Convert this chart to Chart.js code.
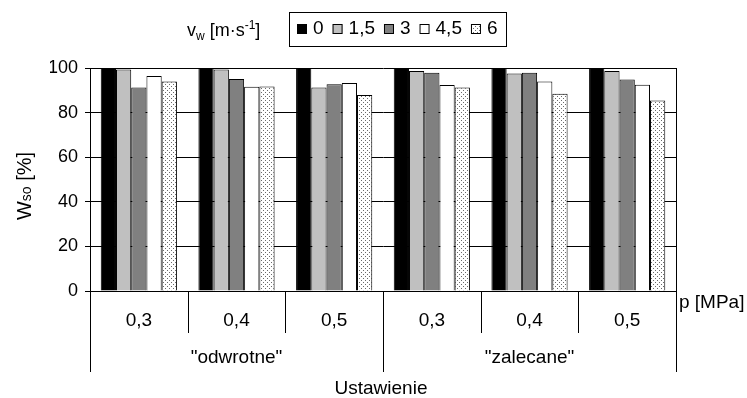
<!DOCTYPE html>
<html><head><meta charset="utf-8">
<script src="https://cdn.jsdelivr.net/npm/chart.js@4"></script>
<style>html,body{margin:0;padding:0;background:#fff}#wrap{width:747px;height:398px}</style>
</head><body><div id="wrap"><canvas id="c" width="747" height="398"></canvas></div>
<script>
const categories = ['0,3','0,4','0,5','0,3','0,4','0,5'];
const groups = ['"odwrotne"','"zalecane"'];
const groupSize = [3,3];
const seriesNames = ['0','1,5','3','4,5','6'];
const s0 = [100,100,100,100,100,100];
const s15 = [99.3,99.3,91.2,98.7,97.5,98.7];
const s3 = [91.2,95.1,92.7,97.9,97.9,94.8];
const s45 = [96.4,91.6,93.3,92.4,94.0,92.5];
const s6 = [93.9,91.7,87.9,91.2,88.5,85.4];
const yTicks = [0,20,40,60,80,100];

const FONT = "'Liberation Sans', Arial, sans-serif";

function dotPattern(){
  const p = document.createElement('canvas');
  p.width = 4; p.height = 4;
  const g = p.getContext('2d');
  g.fillStyle = '#fff'; g.fillRect(0,0,4,4);
  g.fillStyle = '#6a6a6a';
  g.fillRect(1,0,1,1);
  g.fillRect(3,2,1,1);
  return document.getElementById('c').getContext('2d').createPattern(p,'repeat');
}
const pat = dotPattern();
const fills = ['#000000','#c0c0c0','#808080','#ffffff',pat];
const seriesData = [s0,s15,s3,s45,s6];

const extras = {
  id:'extras',
  afterDraw(chart){
    const ctx = chart.ctx, x = chart.scales.x, ca = chart.chartArea;
    ctx.save();
    ctx.strokeStyle = '#000'; ctx.lineWidth = 1;
    // right border
    ctx.beginPath(); ctx.moveTo(Math.round(ca.right)+0.5, ca.top); ctx.lineTo(Math.round(ca.right)+0.5, 372); ctx.stroke();
    // separators
    const step = x.getPixelForValue(1) - x.getPixelForValue(0);
    const bounds = [];
    for(let i=0;i<=categories.length;i++) bounds.push(x.getPixelForValue(0) - step/2 + i*step);
    const major = new Set([0]); let acc=0; groupSize.forEach(g=>{acc+=g; major.add(acc);});
    bounds.forEach((b,i)=>{
      const xx = Math.round(b)+0.5;
      ctx.beginPath(); ctx.moveTo(xx, ca.bottom); ctx.lineTo(xx, major.has(i)?372:333); ctx.stroke();
    });
    // group labels
    ctx.fillStyle = '#000'; ctx.font = '19px '+FONT; ctx.textAlign='center'; ctx.textBaseline='middle';
    let st = 0;
    groups.forEach((g,gi)=>{
      const cx = (bounds[st] + bounds[st+groupSize[gi]])/2;
      ctx.fillText(g, cx, 358);
      st += groupSize[gi];
    });
    ctx.fillText('Ustawienie', (ca.left+ca.right)/2 - 2, 389);
    ctx.textAlign='left';
    ctx.fillText('p [MPa]', ca.right+3, 303);
    // y title
    ctx.save();
    ctx.translate(31, 186); ctx.rotate(-Math.PI/2);
    ctx.textBaseline='alphabetic';
    const parts = [['W','20px'],['so','14px'],[' [%]','20px']];
    let tw = 0; parts.forEach(p=>{ctx.font=p[1]+' '+FONT; tw+=ctx.measureText(p[0]).width;});
    let px = -tw/2;
    parts.forEach(p=>{ctx.font=p[1]+' '+FONT; ctx.textAlign='left'; ctx.fillText(p[0],px,0); px+=ctx.measureText(p[0]).width;});
    ctx.restore();
    // vw title
    ctx.textBaseline='alphabetic'; ctx.textAlign='left';
    const tparts = [['v','18px',36],['w','12px',40],[' [m·s','18px',36],['-1','12px',29],[']','18px',36]];
    let tx = 187;
    tparts.forEach(p=>{ctx.font=p[1]+' '+FONT; ctx.fillText(p[0],tx,p[2]); tx+=ctx.measureText(p[0]).width;});
    // legend
    const bx=289, by=12, bw=217, bh=34;
    ctx.strokeStyle='#000';
    ctx.strokeRect(bx+0.5, by+0.5, bw, bh);
    ctx.font='19px '+FONT; ctx.textBaseline='middle';
    let lx = bx+8;
    seriesNames.forEach((n,i)=>{
      ctx.fillStyle = fills[i];
      ctx.fillRect(lx, 24, 10, 10);
      ctx.strokeStyle='#000'; ctx.strokeRect(lx+0.5, 24.5, 9, 9);
      lx += 10 + 6;
      ctx.fillStyle='#000';
      ctx.fillText(n, lx, 29);
      lx += ctx.measureText(n).width + 9;
    });
    ctx.restore();
  }
};

new Chart(document.getElementById('c'), {
  type:'bar',
  data:{
    labels: categories,
    datasets: seriesNames.map((n,i)=>({
      label:n, data:seriesData[i], backgroundColor:fills[i],
      borderColor:'#000', borderWidth:1, borderSkipped:'bottom',
      categoryPercentage:0.78, barPercentage:1.0
    }))
  },
  options:{
    responsive:false, animation:false, devicePixelRatio:1,
    layout:{padding:{left:50,right:71,top:68,bottom:0}},
    plugins:{legend:{display:false}, tooltip:{enabled:false}},
    scales:{
      x:{
        grid:{display:false},
        border:{display:true,color:'#000',width:1},
        ticks:{font:{family:FONT,size:19},color:'#000',padding:10,maxRotation:0,autoSkip:false},
        afterFit(s){s.height=107;}
      },
      y:{
        min:0,max:100,
        afterBuildTicks(s){s.ticks = yTicks.map(v=>({value:v}));},
        grid:{color:'#000',lineWidth:1,tickLength:5,drawTicks:true},
        border:{display:true,color:'#000',width:1},
        ticks:{font:{family:FONT,size:18},color:'#000',padding:7},
        afterFit(s){s.width=40;}
      }
    }
  },
  plugins:[extras]
});
</script></body></html>
